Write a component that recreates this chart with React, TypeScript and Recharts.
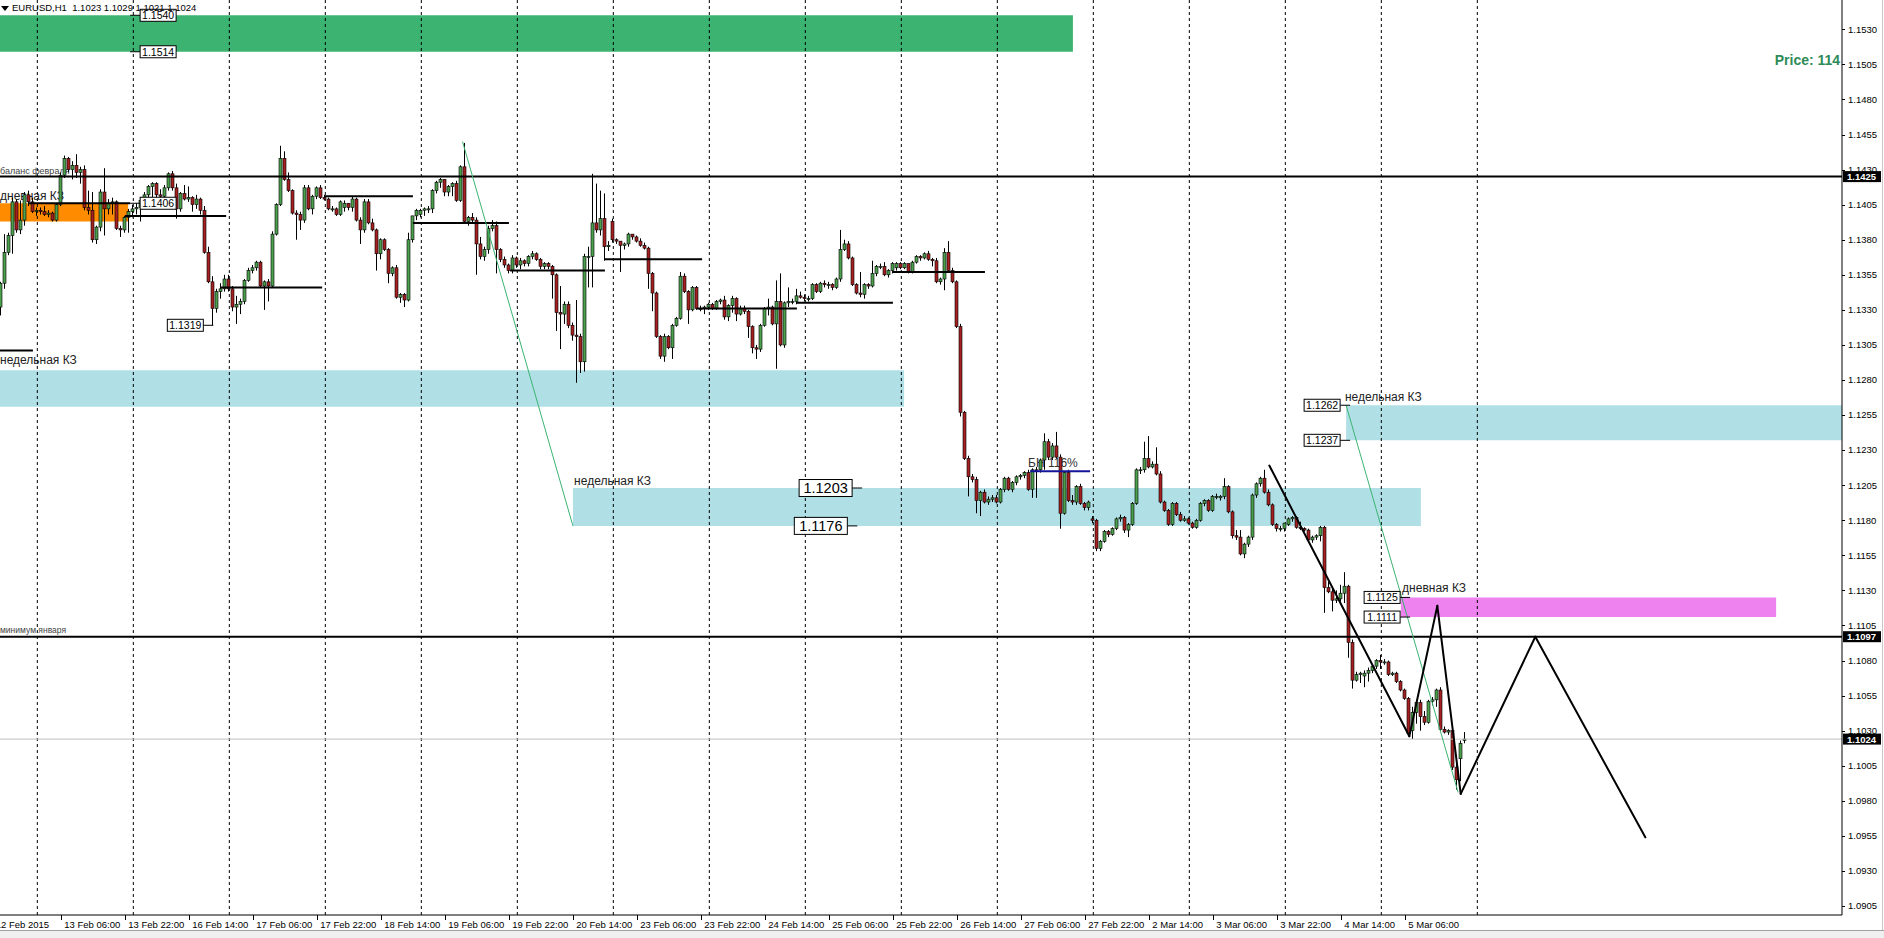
import React from 'react';
import { ComposedChart, Bar, XAxis, YAxis, ReferenceLine, ReferenceArea, ReferenceDot } from 'recharts';

/* ── EURUSD H1, 12 Feb 15:00 → 5 Mar 21:00 2015 ─────────────
   each candle: [open, high, low, close] in pips above 1.1000 */
const feb12 = [[332,350,326,349],[349,384,345,371],[371,385,369,383],[383,410,370,407],[407,409,385,387],[387,408,384,394],[394,414,390,412],[412,415,404,407],[407,410,399,400]];
const feb13 = [[400,403,397,401],[401,403,398,400],[400,404,397,398],[398,401,396,399],[399,400,393,394],[394,406,393,405],[405,428,404,426],[426,440,424,438],[438,439,428,430],[430,436,423,433],[433,441,424,428],[428,432,420,430],[430,433,401,403],[403,415,398,401],[401,414,378,380],[380,390,377,389],[389,416,386,414],[414,431,383,402],[402,409,398,406],[406,410,398,407],[407,408,387,388],[388,390,382,387],[387,397,385,396],[396,402,385,400]];
const feb16 = [[400,405,396,402],[402,406,398,403],[403,410,393,408],[408,414,405,412],[412,419,410,418],[418,421,410,420],[420,421,410,412],[412,416,407,411],[411,419,410,417],[417,428,415,427],[427,429,415,417],[417,420,395,402],[402,414,400,413],[413,419,408,409],[409,418,407,410],[410,411,400,405],[405,412,402,409],[409,410,398,401],[401,404,370,371],[371,375,349,350],[350,354,319,331],[331,345,328,343],[343,349,338,345],[345,355,343,352]];
const feb17 = [[352,355,343,345],[345,347,329,332],[332,340,320,334],[334,338,327,336],[336,352,334,351],[351,360,350,358],[358,362,356,360],[360,365,358,364],[364,365,346,347],[347,351,330,350],[350,352,336,347],[347,386,346,384],[384,406,383,405],[405,447,404,438],[438,443,422,423],[423,428,414,415],[415,416,398,399],[399,401,380,398],[398,400,387,394],[394,419,392,417],[417,419,401,402],[402,412,398,411],[411,418,409,417],[417,419,409,410]];
const feb18 = [[410,412,408,409],[409,410,401,402],[402,404,400,402],[402,403,397,398],[398,408,397,407],[403,408,400,406],[406,406,401,403],[403,411,400,409],[409,410,393,394],[394,396,377,387],[387,409,385,407],[407,409,391,392],[392,395,386,387],[387,388,358,370],[370,381,366,380],[380,381,372,373],[373,374,349,356],[356,361,354,360],[360,362,338,339],[339,342,335,341],[341,342,332,337],[337,385,336,380],[380,397,378,397],[397,402,394,401]];
const feb19 = [[398,402,396,401],[401,403,397,402],[402,404,399,402],[402,416,399,415],[415,422,413,421],[421,424,417,423],[423,423,411,414],[414,419,411,418],[418,421,411,420],[420,422,407,408],[408,433,407,432],[432,449,392,393],[393,397,390,396],[396,399,392,394],[394,396,355,377],[377,382,366,368],[368,375,365,373],[373,390,370,388],[388,394,386,390],[390,393,356,373],[373,374,364,366],[366,368,360,362],[362,363,356,358],[358,369,356,367]];
const feb20 = [[367,368,360,362],[362,367,359,365],[365,366,361,363],[363,369,361,368],[368,372,366,370],[370,371,365,366],[366,367,359,361],[361,364,359,363],[363,364,359,361],[361,362,338,355],[355,356,315,328],[328,347,302,327],[327,336,320,334],[334,336,317,319],[319,321,308,312],[312,337,278,311],[311,313,285,293],[293,370,286,368],[368,375,346,368],[368,427,346,392],[392,420,385,387],[387,415,383,395],[395,413,365,375],[375,379,372,376]];
const feb23 = [[393,395,378,380],[380,381,377,379],[379,379,357,376],[376,378,373,377],[377,385,375,384],[384,384,380,382],[382,383,378,379],[379,381,375,376],[376,378,373,374],[374,375,345,356],[356,357,329,342],[342,343,310,311],[311,312,295,297],[297,313,293,311],[311,312,302,303],[303,320,295,319],[319,325,318,324],[324,357,323,354],[354,356,342,343],[343,344,320,330],[330,347,329,346],[346,347,330,331],[331,333,329,331],[331,333,327,332]];
const feb24 = [[332,335,330,334],[334,335,330,331],[331,337,330,336],[336,338,334,337],[337,340,323,325],[325,334,322,333],[333,340,328,338],[338,339,322,327],[327,333,326,331],[331,333,327,329],[329,330,310,318],[318,319,299,303],[303,305,295,302],[302,320,300,319],[319,332,318,331],[331,338,326,332],[332,333,319,320],[320,351,288,336],[336,356,304,305],[305,336,303,335],[335,346,332,336],[336,338,334,336],[336,345,334,340],[340,343,338,339]];
const feb25 = [[339,341,336,338],[338,340,336,338],[338,349,337,348],[348,349,342,343],[343,350,342,349],[349,351,346,348],[348,350,345,348],[348,349,344,346],[346,353,345,352],[352,387,350,373],[373,380,372,377],[377,379,366,367],[367,368,347,348],[348,349,341,342],[342,357,339,341],[341,349,338,348],[348,349,345,347],[347,365,346,356],[356,362,354,361],[361,363,359,361],[361,364,354,355],[355,359,353,358],[358,364,356,363],[360,364,358,363]];
const feb26 = [[363,364,359,360],[360,364,359,363],[363,363,356,357],[357,365,356,364],[364,369,363,368],[368,369,365,367],[367,371,366,370],[370,372,365,366],[366,367,361,365],[365,367,349,350],[350,353,348,352],[352,374,344,371],[371,379,357,358],[358,360,349,350],[350,351,317,318],[318,320,254,257],[257,258,223,224],[224,226,197,211],[211,213,207,209],[209,211,185,194],[194,201,183,200],[200,202,192,193],[193,197,191,195],[195,198,193,196]];
const feb27 = [[196,198,192,193],[193,203,192,202],[202,211,200,210],[210,211,201,202],[202,208,200,207],[207,212,205,211],[211,213,209,212],[212,215,210,214],[214,216,201,202],[202,217,196,216],[216,218,196,216],[216,224,214,223],[223,242,216,236],[236,238,223,225],[225,235,223,233],[233,243,224,225],[225,227,174,185],[185,215,184,214],[214,216,193,194],[194,198,191,193],[193,205,191,204],[204,206,191,192],[192,193,187,189],[189,194,187,193]];
const mar02 = [[181,183,178,180],[180,181,158,160],[160,166,158,165],[165,173,164,172],[172,173,168,170],[170,175,169,174],[174,182,173,181],[181,184,179,182],[182,183,171,173],[173,178,168,177],[177,193,176,192],[192,217,191,216],[216,218,213,216],[216,236,214,224],[224,240,217,218],[218,222,217,220],[220,232,212,213],[213,215,192,193],[193,194,186,187],[187,188,176,177],[177,193,176,192],[192,193,183,184],[184,186,179,180],[180,183,179,181]];
const mar03 = [[181,182,177,178],[178,179,174,175],[175,181,174,180],[180,193,179,192],[192,195,190,194],[194,195,186,187],[187,198,186,197],[197,199,195,197],[196,198,194,197],[197,210,195,204],[204,205,185,186],[186,187,167,169],[169,173,166,168],[168,173,155,156],[156,164,153,163],[163,169,161,168],[168,199,166,198],[198,207,196,206],[206,211,204,210],[210,216,199,200],[200,202,190,191],[191,192,176,177],[177,178,172,174],[174,176,172,174]];
const mar04 = [[174,178,172,178],[177,182,176,181],[181,183,179,182],[182,183,174,175],[175,179,173,174],[174,175,172,173],[173,174,165,166],[166,169,164,168],[168,170,166,169],[169,176,165,175],[175,176,114,132],[132,136,128,129],[129,131,115,123],[123,130,121,124],[124,134,122,128],[128,143,121,133],[133,134,82,93],[93,95,60,66],[66,72,65,70],[70,72,64,71],[69,73,61,71],[71,75,65,73],[73,77,71,76],[76,81,74,80]];
const mar05 = [[80,84,74,79],[79,81,77,79],[79,80,69,70],[70,72,69,71],[71,72,64,65],[65,66,58,59],[59,60,52,53],[53,54,27,28],[30,47,24,43],[43,52,35,50],[50,52,30,40],[40,44,34,36],[36,52,35,51],[51,54,48,52],[52,60,47,59],[59,61,30,31],[31,33,28,29],[29,31,27,30],[30,31,2,4],[4,8,-12,-5],[10,23,-6,21],[23,29,21,24]];

const DAYS = [feb12, feb13, feb16, feb17, feb18, feb19, feb20, feb23, feb24, feb25, feb26, feb27, mar02, mar03, mar04, mar05];

// bar index where each day starts (period separators)
const SEPARATORS = [9, 33, 57, 81, 105, 129, 153, 177, 201, 225, 249, 273, 297, 321, 345, 369];

const TIME_TICKS = [0, 15, 31, 47, 63, 79, 95, 111, 127, 143, 159, 175, 191, 207, 223, 239, 255, 271, 287, 303, 319, 335, 351];
const TIME_LABELS = ['12 Feb 2015', '13 Feb 06:00', '13 Feb 22:00', '16 Feb 14:00', '17 Feb 06:00', '17 Feb 22:00', '18 Feb 14:00', '19 Feb 06:00', '19 Feb 22:00', '20 Feb 14:00', '23 Feb 06:00', '23 Feb 22:00', '24 Feb 14:00', '25 Feb 06:00', '25 Feb 22:00', '26 Feb 14:00', '27 Feb 06:00', '27 Feb 22:00', '2 Mar 14:00', '3 Mar 06:00', '3 Mar 22:00', '4 Mar 14:00', '5 Mar 06:00'];

const PRICE_TICKS = [1.0905, 1.0930, 1.0955, 1.0980, 1.1005, 1.1030, 1.1055, 1.1080, 1.1105, 1.1130, 1.1155, 1.1180, 1.1205, 1.1230, 1.1255, 1.1280, 1.1305, 1.1330, 1.1355, 1.1380, 1.1405, 1.1430, 1.1455, 1.1480, 1.1505, 1.1530];

/* ── drawn objects (bar index, price) ────────────────────── */
const X_MIN = -0.33;
const X_MAX = 460.17;
const Y_MIN = 1.08986;
const Y_MAX = 1.15509;

const ZONES = [
  { x1: X_MIN, x2: 267.9, y1: 1.1514, y2: 1.1540, fill: '#3cb371' },
  { x1: X_MIN, x2: 31.7, y1: 1.1393, y2: 1.1406, fill: '#ff8c00' },
  { x1: X_MIN, x2: 225.7, y1: 1.1261, y2: 1.1287, fill: '#b0e0e6' },
  { x1: 142.9, x2: 354.9, y1: 1.1176, y2: 1.1203, fill: '#b0e0e6' },
  { x1: 336.2, x2: X_MAX, y1: 1.1237, y2: 1.1262, fill: '#b0e0e6' },
  { x1: 349.9, x2: 443.7, y1: 1.1111, y2: 1.1125, fill: '#ee82ee' },
];

const LEVELS = [
  { y: 1.1425, color: '#000', w: 2 },
  { y: 1.1097, color: '#000', w: 2 },
  { y: 1.1024, color: '#c0c0c0', w: 1 },
];

const DAILY_LINES = [
  [6.9, 32.2, 1.1406], [30.9, 56.2, 1.1397], [54.9, 80.2, 1.1346], [80.9, 102.9, 1.1411],
  [102.9, 126.9, 1.1392], [127.2, 150.9, 1.1358], [150.9, 175.2, 1.1366], [173.9, 198.9, 1.1331],
  [198.9, 222.9, 1.1335], [222.9, 245.9, 1.1357], [X_MIN, 7.9, 1.1301],
];
const BN_LINE = [257.2, 272.2, 1.1215];

const TREND_LINES = [
  [[115.3, 1.1450], [142.9, 1.1176]],
  [[336.2, 1.1262], [364.2, 1.0986]],
];

const ZIGZAG = [[317, 1.1219], [352, 1.1026], [359, 1.1119], [364.85, 1.0985], [383.5, 1.1097], [411, 1.0954]];

const PRICE_BOXES = [
  { x: 32.2, y: 1.1540, text: '1.1540', side: 'right', big: false },
  { x: 32.2, y: 1.1514, text: '1.1514', side: 'right', big: false },
  { x: 32.2, y: 1.1406, text: '1.1406', side: 'right', big: false },
  { x: 53, y: 1.1319, text: '1.1319', side: 'left', big: false },
  { x: 215.2, y: 1.1203, text: '1.1203', side: 'left', big: true },
  { x: 214, y: 1.1176, text: '1.1176', side: 'left', big: true },
  { x: 337.2, y: 1.1262, text: '1.1262', side: 'left', big: false },
  { x: 337.2, y: 1.1237, text: '1.1237', side: 'left', big: false },
  { x: 352.2, y: 1.1125, text: '1.1125', side: 'left', big: false },
  { x: 352.2, y: 1.1111, text: '1.1111', side: 'left', big: false },
];

const NOTES = [
  { x: X_MIN, y: 1.1429, text: 'баланс февраля', size: 9, color: '#444' },
  { x: X_MIN, y: 1.14112, text: 'дневная КЗ', size: 12, color: '#222' },
  { x: X_MIN, y: 1.12942, text: 'недельная КЗ', size: 12, color: '#222' },
  { x: 143.2, y: 1.1208, text: 'недельная КЗ', size: 12, color: '#222' },
  { x: 335.9, y: 1.12679, text: 'недельная КЗ', size: 12, color: '#222' },
  { x: 350.2, y: 1.11317, text: 'дневная КЗ', size: 12, color: '#222' },
  { x: X_MIN, y: 1.11018, text: 'минимум января', size: 8.5, color: '#444' },
  { x: 256.7, y: 1.12208, text: 'БН 116%', size: 12, color: '#333' },
];

const AXIS_TAGS = [1.1425, 1.1097, 1.1024];

const FONT = "'Liberation Sans', Arial, sans-serif";
const BULL = '#4c9f4c';
const BEAR = '#a52020';
const PIP = 0.0001;
const BASE = 1.1;

const candles = DAYS.flat().map(([o, h, l, c], i) => ({
  i,
  o: BASE + o * PIP,
  h: BASE + h * PIP,
  l: BASE + l * PIP,
  c: BASE + c * PIP,
  range: [BASE + l * PIP, BASE + h * PIP],
}));

/* ── shapes ─────────────────────────────────────────────── */
function Candle(props: any) {
  const { x, y, width, height, payload } = props;
  if (x == null || !payload) return null;
  const top = Math.min(y, y + height);
  const hPx = Math.abs(height);
  const { o, h, l, c } = payload;
  const span = h - l || 1e-9;
  const toPx = (v: number) => top + ((h - v) / span) * hPx;
  const cx = Math.floor(x + width / 2) + 0.5;
  const bTop = toPx(Math.max(o, c));
  const bBot = toPx(Math.min(o, c));
  return (
    <g>
      <line x1={cx} x2={cx} y1={top} y2={top + hPx} stroke="#000" strokeWidth={1} />
      <rect x={cx - 1.5} y={bTop} width={3} height={Math.max(bBot - bTop, 1)}
        fill={c >= o ? BULL : BEAR} stroke="#000" strokeWidth={0.6} />
    </g>
  );
}

function PriceBox({ cx, cy, box }: any) {
  if (cx == null) return null;
  const w = box.big ? 53 : 36;
  const h = box.big ? 17 : 12;
  const bx = box.side === 'right' ? cx + 10 : cx - 10 - w;
  const lx = box.side === 'right' ? cx + 10 : cx - 10;
  return (
    <g>
      <line x1={cx} x2={lx} y1={cy} y2={cy} stroke="#000" strokeWidth={1} />
      <rect x={bx} y={cy - h / 2} width={w} height={h} fill="#fff" stroke="#000" strokeWidth={1} />
      <text x={bx + w / 2} y={cy} dy="0.36em" textAnchor="middle" fontFamily={FONT}
        fontSize={box.big ? 14.5 : 10.5} fill="#000">{box.text}</text>
    </g>
  );
}

function Note({ cx, cy, note }: any) {
  if (cx == null) return null;
  return (
    <text x={cx} y={cy} dy="0.35em" fontFamily={FONT} fontSize={note.size} fill={note.color}>
      {note.text}
    </text>
  );
}

function AxisTag({ cx, cy, value }: any) {
  if (cx == null) return null;
  return (
    <g>
      <rect x={cx + 1} y={cy - 5.5} width={38} height={11} fill="#000" />
      <text x={cx + 5} y={cy} dy="0.36em" fontFamily={FONT} fontSize={9.5} fontWeight="bold" fill="#fff">
        {value.toFixed(4)}
      </text>
    </g>
  );
}

function TimeTick(props: any) {
  const { x, y, payload } = props;
  const k = TIME_TICKS.indexOf(payload.value);
  const first = k === 0;
  const lx = Math.round(x) + 0.5;
  return (
    <g>
      {!first && <line x1={lx} x2={lx} y1={y} y2={y + 5} stroke="#000" />}
      <text x={first ? x - 5.6 : x + 3} y={y + 13} fontSize={9.5} fontFamily={FONT} fill="#000">
        {TIME_LABELS[k]}
      </text>
    </g>
  );
}

function PriceTick(props: any) {
  const { x, y, payload } = props;
  const ly = Math.round(y) + 0.5;
  return (
    <g>
      <line x1={x} x2={x + 3} y1={ly} y2={ly} stroke="#000" />
      <text x={x + 6} y={y} dy="0.35em" fontSize={9.5} fontFamily={FONT} fill="#000">
        {Number(payload.value).toFixed(4)}
      </text>
    </g>
  );
}

/* ═══════════════════════════════════════════════════════ */
export default function App() {
  const segs: number[][][] = [];
  for (let k = 1; k < ZIGZAG.length; k++) segs.push([ZIGZAG[k - 1], ZIGZAG[k]]);

  return (
    <div style={{ position: 'absolute', left: 0, top: 0, width: 1884, height: 938, background: '#fff', overflow: 'hidden' }}>
      <ComposedChart width={1884} height={938} data={candles} margin={{ top: 0, right: 0, bottom: 0, left: 0 }}>
        <XAxis type="number" dataKey="i" domain={[X_MIN, X_MAX]} allowDataOverflow ticks={TIME_TICKS}
          interval={0} height={23} tickSize={0} tickMargin={0} tickLine={false}
          axisLine={{ stroke: '#000' }} tick={(p: any) => <TimeTick {...p} />} />
        <YAxis orientation="right" type="number" domain={[Y_MIN, Y_MAX]} allowDataOverflow ticks={PRICE_TICKS}
          interval={0} width={42} tickSize={0} tickMargin={0} tickLine={false}
          axisLine={{ stroke: '#000' }} tick={(p: any) => <PriceTick {...p} />} />

        {ZONES.map((z, k) => (
          <ReferenceArea key={`z${k}`} x1={z.x1} x2={z.x2} y1={z.y1} y2={z.y2} fill={z.fill}
            fillOpacity={1} stroke="none" ifOverflow="hidden" zIndex={100} />
        ))}

        {NOTES.map((n, k) => (
          <ReferenceDot key={`n${k}`} x={n.x} y={n.y} zIndex={150}
            shape={(p: any) => <Note {...p} note={n} />} />
        ))}

        {SEPARATORS.map((b) => (
          <ReferenceLine key={`s${b}`} x={b} stroke="#000" strokeWidth={1} strokeDasharray="3 3" zIndex={160} />
        ))}

        <Bar dataKey="range" barSize={3} isAnimationActive={false} zIndex={300}
          shape={(p: any) => <Candle {...p} />} />

        {LEVELS.map((lv) => (
          <ReferenceLine key={`l${lv.y}`} y={lv.y} stroke={lv.color} strokeWidth={lv.w} zIndex={400} />
        ))}

        {DAILY_LINES.map(([a, b, p], k) => (
          <ReferenceLine key={`d${k}`} segment={[{ x: a, y: p }, { x: b, y: p }]} stroke="#000" strokeWidth={2} zIndex={400} />
        ))}

        <ReferenceLine segment={[{ x: BN_LINE[0], y: BN_LINE[2] }, { x: BN_LINE[1], y: BN_LINE[2] }]}
          stroke="#14149a" strokeWidth={2} zIndex={400} />

        {TREND_LINES.map(([a, b], k) => (
          <ReferenceLine key={`t${k}`} segment={[{ x: a[0], y: a[1] }, { x: b[0], y: b[1] }]}
            stroke="#3cb371" strokeWidth={1} zIndex={400} />
        ))}

        {segs.map(([a, b], k) => (
          <ReferenceLine key={`zz${k}`} segment={[{ x: a[0], y: a[1] }, { x: b[0], y: b[1] }]}
            stroke="#000" strokeWidth={2} strokeLinecap="round" zIndex={400} />
        ))}

        {PRICE_BOXES.map((bx, k) => (
          <ReferenceDot key={`b${k}`} x={bx.x} y={bx.y} zIndex={2000}
            shape={(p: any) => <PriceBox {...p} box={bx} />} />
        ))}

        <ReferenceDot x={459.7} y={1.15081} zIndex={2000}
          shape={(p: any) => (
            <text x={p.cx} y={p.cy} dy="0.35em" textAnchor="end" fontFamily={FONT} fontSize={14}
              fontWeight="bold" fill="#2e8b57">Price: 114</text>
          )} />

        {AXIS_TAGS.map((v) => (
          <ReferenceDot key={`a${v}`} x={X_MAX} y={v} zIndex={2100}
            shape={(p: any) => <AxisTag {...p} value={v} />} />
        ))}
      </ComposedChart>

      <div style={{ position: 'absolute', left: 0, top: 2, fontFamily: FONT, fontSize: 9.5, whiteSpace: 'pre', display: 'flex', alignItems: 'center' }}>
        <svg width={10} height={10} style={{ marginRight: 2 }}>
          <polygon points="1,3 9,3 5,8" fill="#000" />
        </svg>
        <span>EURUSD,H1  1.1023 1.1029 1.1021 1.1024</span>
      </div>
      <div style={{ position: 'absolute', left: 0, top: 930, width: 1884, height: 8, background: '#f0f0f0', borderTop: '1px solid #a0a0a0' }} />
      <div style={{ position: 'absolute', left: 1882, top: 0, width: 1, height: 930, background: '#c8c8c8' }} />
    </div>
  );
}
